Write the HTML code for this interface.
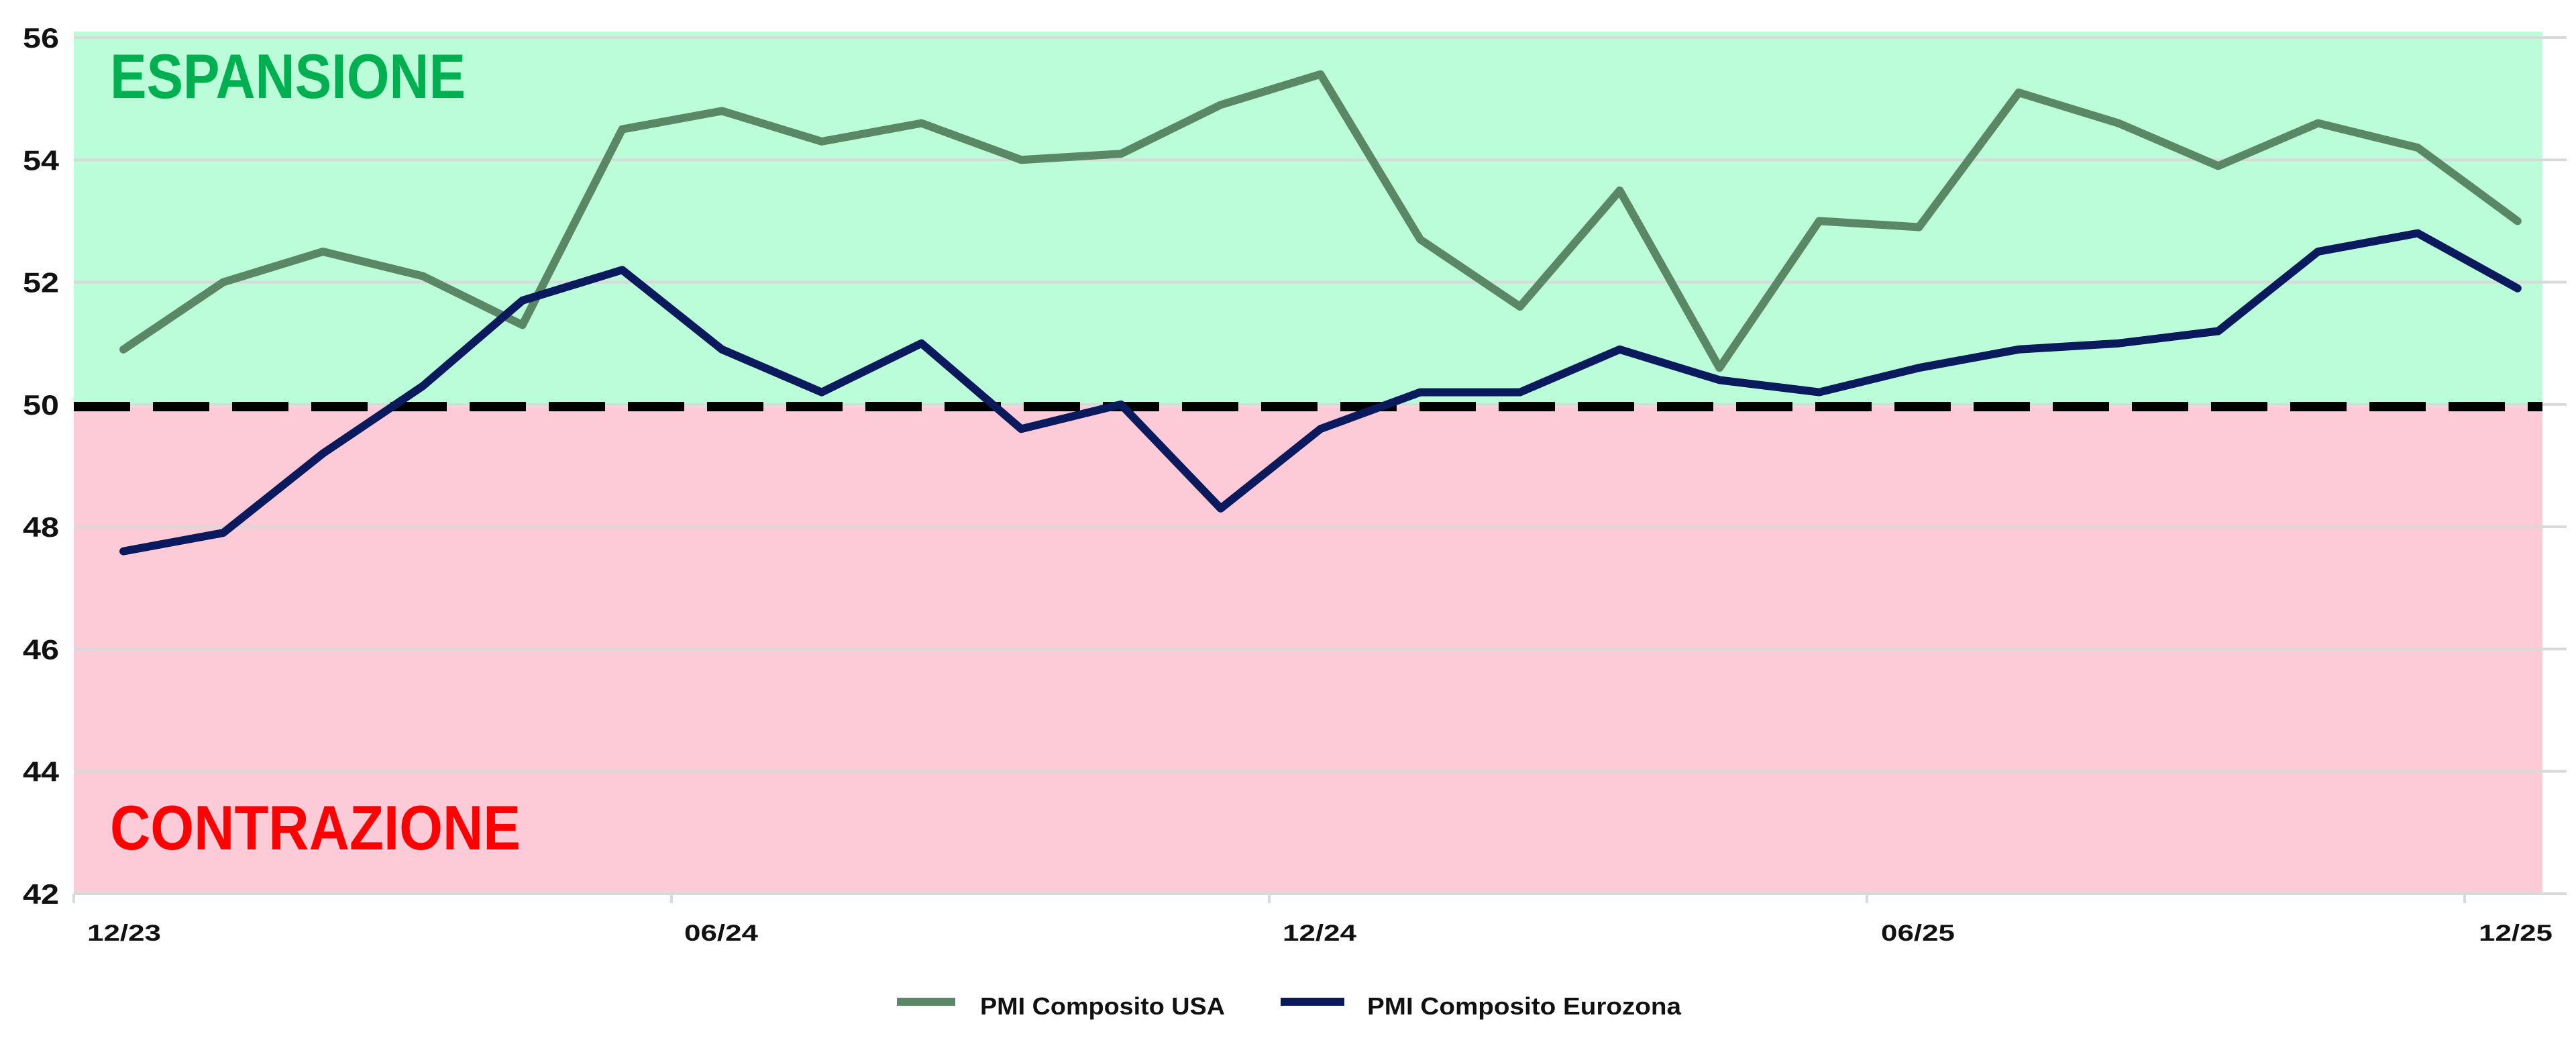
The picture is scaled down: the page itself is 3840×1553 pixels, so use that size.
<!DOCTYPE html>
<html><head><meta charset="utf-8"><style>
html,body{margin:0;padding:0;background:#fff;}
svg{display:block;}
text{font-family:"Liberation Sans",sans-serif;font-weight:bold;}
</style></head><body>
<svg id="c" width="3840" height="1553" viewBox="0 0 3840 1553" xmlns="http://www.w3.org/2000/svg">
<rect x="0" y="0" width="3840" height="1553" fill="#fff"/>
<rect x="110" y="47" width="3680" height="559" fill="#bbfcd9"/>
<rect x="110" y="606" width="3680" height="726" fill="#fdcbd8"/>
<g id="grid" stroke="#d9d9d9" stroke-width="4"></g>
<g id="ticks" stroke="#d9d9d9" stroke-width="4"></g>
<line x1="110" y1="606" x2="3790" y2="606" stroke="#000" stroke-width="14" stroke-dasharray="84,34"/>
<text x="164" y="146" font-size="94" fill="#00b050" textLength="530" lengthAdjust="spacingAndGlyphs">ESPANSIONE</text>
<text x="164" y="1266" font-size="94" fill="#ff0000" textLength="612" lengthAdjust="spacingAndGlyphs">CONTRAZIONE</text>
<polyline id="usa" fill="none" stroke="#5a8765" stroke-width="12" stroke-linejoin="round" stroke-linecap="round"/>
<polyline id="eu" fill="none" stroke="#0a1a5c" stroke-width="12" stroke-linejoin="round" stroke-linecap="round"/>
<g id="ylab" font-size="42" fill="#111" text-anchor="end"></g>
<g font-size="34" fill="#111">
<text x="130" y="1402" textLength="110" lengthAdjust="spacingAndGlyphs">12/23</text>
<text x="1020" y="1402" textLength="110" lengthAdjust="spacingAndGlyphs">06/24</text>
<text x="1912" y="1402" textLength="110" lengthAdjust="spacingAndGlyphs">12/24</text>
<text x="2804" y="1402" textLength="110" lengthAdjust="spacingAndGlyphs">06/25</text>
<text x="3695" y="1402" textLength="110" lengthAdjust="spacingAndGlyphs">12/25</text>
</g>
<line x1="1337" y1="1493" x2="1424" y2="1493" stroke="#5a8765" stroke-width="12"/>
<text x="1461" y="1512" font-size="36" fill="#111" textLength="365" lengthAdjust="spacingAndGlyphs" font-weight="normal">PMI Composito USA</text>
<line x1="1909" y1="1493" x2="2004" y2="1493" stroke="#0a1a5c" stroke-width="12"/>
<text x="2038" y="1512" font-size="36" fill="#111" textLength="468" lengthAdjust="spacingAndGlyphs" font-weight="normal">PMI Composito Eurozona</text>
</svg>
<script>
var ns="http://www.w3.org/2000/svg";
function y(v){return 56+(56-v)*91.14;}
var g=document.getElementById('grid'),yl=document.getElementById('ylab');
for(var v=42;v<=56;v+=2){var l=document.createElementNS(ns,'line');l.setAttribute('x1',110);l.setAttribute('x2',3826);l.setAttribute('y1',y(v));l.setAttribute('y2',y(v));g.appendChild(l);
var t=document.createElementNS(ns,'text');t.setAttribute('x',88);t.setAttribute('y',y(v)+15);t.setAttribute('textLength',54);t.setAttribute('lengthAdjust','spacingAndGlyphs');t.textContent=v;yl.appendChild(t);}
var tk=document.getElementById('ticks');
for(var k=0;k<=24;k+=6){var x=110+148.5*k;var l=document.createElementNS(ns,'line');l.setAttribute('x1',x);l.setAttribute('x2',x);l.setAttribute('y1',1332);l.setAttribute('y2',1346);tk.appendChild(l);}
var usa=[50.9,52.0,52.5,52.1,51.3,54.5,54.8,54.3,54.6,54.0,54.1,54.9,55.4,52.7,51.6,53.5,50.6,53.0,52.9,55.1,54.6,53.9,54.6,54.2,53.0];
var eu=[47.6,47.9,49.2,50.3,51.7,52.2,50.9,50.2,51.0,49.6,50.0,48.3,49.6,50.2,50.2,50.9,50.4,50.2,50.6,50.9,51.0,51.2,52.5,52.8,51.9];
function pts(a){return a.map(function(v,i){return (184+148.7*i).toFixed(1)+','+y(v).toFixed(1);}).join(' ');}
document.getElementById('usa').setAttribute('points',pts(usa));
document.getElementById('eu').setAttribute('points',pts(eu));
</script>
</body></html>
